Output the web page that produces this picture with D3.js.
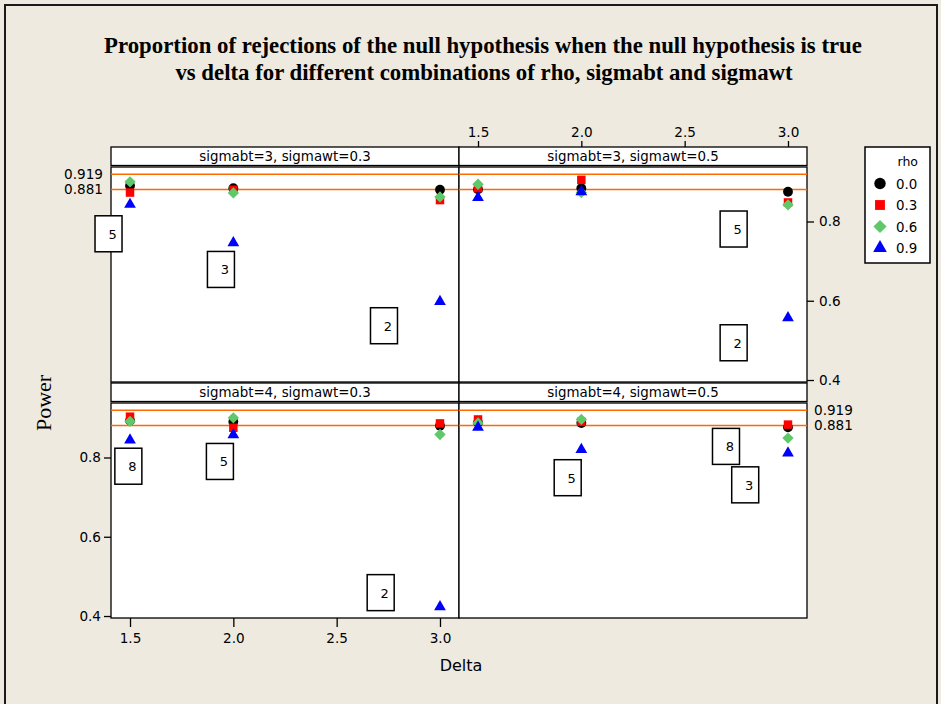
<!DOCTYPE html>
<html>
<head>
<meta charset="utf-8">
<script src="https://cdn.jsdelivr.net/npm/d3@7"></script>
<style>
  html, body { margin: 0; padding: 0; background: #EEEAE0; }
  svg { display: block; }
  .sans { font-family: "DejaVu Sans", Verdana, sans-serif; }
  .serif { font-family: "Liberation Serif", "Times New Roman", serif; }
</style>
</head>
<body>
<svg id="chart" width="941" height="704"></svg>
<script>
// ---- data ----------------------------------------------------------
const deltas = [1.5, 2.0, 3.0];
const rhoLevels = ["0.0", "0.3", "0.6", "0.9"];
const panelLabels = [
  "sigmabt=3, sigmawt=0.3",
  "sigmabt=3, sigmawt=0.5",
  "sigmabt=4, sigmawt=0.3",
  "sigmabt=4, sigmawt=0.5"
];
// power by rho level (rows) at delta = 1.5, 2.0, 3.0 (columns)
const powerS3W03 = [
  [0.890, 0.884, 0.880],
  [0.873, 0.880, 0.854],
  [0.900, 0.872, 0.862],
  [0.843, 0.746, 0.598]
];
const powerS3W05 = [
  [0.881, 0.884, 0.875],
  [0.884, 0.905, 0.848],
  [0.894, 0.873, 0.842],
  [0.860, 0.875, 0.557]
];
const powerS4W03 = [
  [0.893, 0.890, 0.880],
  [0.903, 0.875, 0.886],
  [0.891, 0.900, 0.858],
  [0.844, 0.857, 0.423]
];
const powerS4W05 = [
  [0.888, 0.887, 0.876],
  [0.896, 0.890, 0.883],
  [0.887, 0.896, 0.849],
  [0.876, 0.820, 0.811]
];
const panelPower = [powerS3W03, powerS3W05, powerS4W03, powerS4W05];
const refLines = [0.919, 0.881];
const xTicks = [1.5, 2.0, 2.5, 3.0];
const yTicks = [0.4, 0.6, 0.8];
// boxed counts placed at (delta, power) inside each panel
const boxNotes = [
  { panel: 0, delta: 1.396, power: 0.769, text: "5" },
  { panel: 0, delta: 1.940, power: 0.679, text: "3" },
  { panel: 0, delta: 2.729, power: 0.537, text: "2" },
  { panel: 1, delta: 2.737, power: 0.781, text: "5" },
  { panel: 1, delta: 2.737, power: 0.494, text: "2" },
  { panel: 2, delta: 1.492, power: 0.778, text: "8" },
  { panel: 2, delta: 1.935, power: 0.790, text: "5" },
  { panel: 2, delta: 2.713, power: 0.459, text: "2" },
  { panel: 3, delta: 2.700, power: 0.828, text: "8" },
  { panel: 3, delta: 2.793, power: 0.731, text: "3" },
  { panel: 3, delta: 1.934, power: 0.749, text: "5" }
];

// ---- layout --------------------------------------------------------
const svg = d3.select("#chart");
const colLeft = [111, 459], colWidth = 348;
const rowTop = [147, 383], stripH = 20, plotH = 215;
const colors = ["#000000", "#FF0000", "#5FC96A", "#0000FF"];
const shapes = [d3.symbolCircle, d3.symbolSquare, d3.symbolSquare, d3.symbolTriangle];
const sizes = [76, 72, 64, 60];
const rotations = [0, 0, 45, 0];
const refColor = "#FF6A00";

// outer frame (runs off the bottom edge)
svg.append("rect").attr("x", 5).attr("y", 5).attr("width", 932).attr("height", 710)
  .attr("fill", "#EEEAE0").attr("stroke", "#1a1a1a").attr("stroke-width", 2);

// title
const title = svg.append("text").attr("class", "serif").attr("text-anchor", "middle")
  .attr("font-weight", "bold").attr("font-size", 22.8).attr("fill", "#000");
title.append("tspan").attr("x", 483).attr("y", 53)
  .text("Proportion of rejections of the null hypothesis when the null hypothesis is true");
title.append("tspan").attr("x", 484).attr("y", 80)
  .text("vs delta for different combinations of rho, sigmabt and sigmawt");

const x = d3.scaleLinear().domain([1.408, 3.092]).range([0, colWidth]);
const y = d3.scaleLinear().domain([0.395, 0.9375]).range([plotH, 0]);

panelLabels.forEach((label, i) => {
  const col = i % 2, row = Math.floor(i / 2);
  const g = svg.append("g")
    .attr("transform", `translate(${colLeft[col]},${rowTop[row]})`);

  // strip
  g.append("rect").attr("x", 0).attr("y", 0).attr("width", colWidth).attr("height", stripH - 1.5)
    .attr("fill", "#fff").attr("stroke", "#000").attr("stroke-width", 1.3);
  g.append("text").attr("class", "sans").attr("x", colWidth / 2).attr("y", stripH / 2 + 4)
    .attr("text-anchor", "middle").attr("font-size", 13.4).text(label);

  // plot area
  const p = g.append("g").attr("transform", `translate(0,${stripH})`);
  p.append("rect").attr("width", colWidth).attr("height", plotH)
    .attr("fill", "#fff").attr("stroke", "#000").attr("stroke-width", 1.3);

  p.selectAll("line.ref").data(refLines).join("line").attr("class", "ref")
    .attr("x1", 0).attr("x2", colWidth)
    .attr("y1", d => y(d)).attr("y2", d => y(d))
    .attr("stroke", refColor).attr("stroke-width", 1.5);

  // boxed counts
  const notes = p.selectAll("g.note").data(boxNotes.filter(n => n.panel === i)).join("g")
    .attr("class", "note")
    .attr("transform", d => `translate(${x(d.delta)},${y(d.power)})`);
  notes.append("rect").attr("x", -13.5).attr("y", -18).attr("width", 27).attr("height", 36)
    .attr("fill", "#fff").attr("stroke", "#000").attr("stroke-width", 1.5);
  notes.append("text").attr("class", "sans").attr("x", 4).attr("y", 5)
    .attr("text-anchor", "middle").attr("font-size", 13).text(d => d.text);

  // points, one series per rho level
  panelPower[i].forEach((vals, r) => {
    p.selectAll(`path.s${r}`).data(vals).join("path").attr("class", `s${r}`)
      .attr("d", d3.symbol().type(shapes[r]).size(sizes[r]))
      .attr("transform", (d, k) => `translate(${x(deltas[k])},${y(d)}) rotate(${rotations[r]})`)
      .attr("fill", colors[r]);
  });

  const fmt = d3.format(".1f");
  if (i === 1) {
    // top delta axis and right power axis
    g.append("g").attr("class", "sans").call(d3.axisTop(x).tickValues(xTicks).tickFormat(fmt).tickSize(6).tickPadding(4))
      .call(a => a.select(".domain").remove());
    p.append("g").attr("class", "sans").attr("transform", `translate(${colWidth},0)`)
      .call(d3.axisRight(y).tickValues(yTicks).tickFormat(fmt).tickSize(7).tickPadding(5))
      .call(a => a.select(".domain").remove());
  }
  if (i === 2) {
    p.append("g").attr("class", "sans")
      .call(d3.axisLeft(y).tickValues(yTicks).tickFormat(fmt).tickSize(7).tickPadding(3))
      .call(a => a.select(".domain").remove());
    p.append("g").attr("class", "sans").attr("transform", `translate(0,${plotH})`)
      .call(d3.axisBottom(x).tickValues(xTicks).tickFormat(fmt).tickSize(9).tickPadding(6))
      .call(a => a.select(".domain").remove());
  }
  if (i === 0) {
    p.selectAll("text.reflab").data(refLines).join("text").attr("class", "sans reflab")
      .attr("x", -8).attr("y", d => y(d)).attr("dy", "0.35em")
      .attr("text-anchor", "end").attr("font-size", 13.6).text(d => d3.format(".3f")(d));
  }
  if (i === 3) {
    p.selectAll("text.reflab").data(refLines).join("text").attr("class", "sans reflab")
      .attr("x", colWidth + 7).attr("y", d => y(d)).attr("dy", "0.35em")
      .attr("text-anchor", "start").attr("font-size", 13.6).text(d => d3.format(".3f")(d));
  }
});

svg.selectAll(".tick text").attr("font-size", 13.6).attr("fill", "#000");
svg.selectAll(".tick line").attr("stroke", "#000").attr("stroke-width", 1.3);

// axis titles
svg.append("text").attr("class", "sans").attr("x", 461).attr("y", 671)
  .attr("text-anchor", "middle").attr("font-size", 16).text("Delta");
svg.append("text").attr("class", "serif").attr("transform", "translate(51,403) rotate(-90)")
  .attr("text-anchor", "middle").attr("font-size", 22).text("Power");

// legend
const lg = svg.append("g").attr("transform", "translate(865,147)");
lg.append("rect").attr("width", 65).attr("height", 116)
  .attr("fill", "#fff").attr("stroke", "#000").attr("stroke-width", 1.5);
lg.append("text").attr("class", "sans").attr("x", 53).attr("y", 19)
  .attr("text-anchor", "end").attr("font-size", 12.5).text("rho");
rhoLevels.forEach((lvl, r) => {
  const cy = 36.5 + r * 21.5;
  lg.append("path").attr("d", d3.symbol().type(shapes[r]).size(sizes[r] * 1.35)())
    .attr("transform", `translate(15,${cy}) rotate(${rotations[r]})`).attr("fill", colors[r]);
  lg.append("text").attr("class", "sans").attr("x", 31).attr("y", cy + 5)
    .attr("font-size", 13.4).text(lvl);
});
</script>
</body>
</html>
